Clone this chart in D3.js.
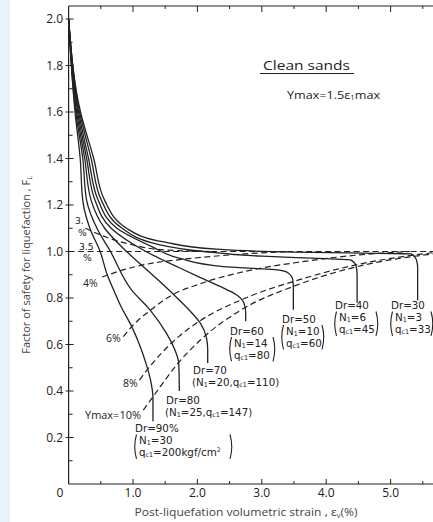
<!DOCTYPE html>
<html><head><meta charset="utf-8">
<script src="https://cdn.jsdelivr.net/npm/d3@7"></script>
<style>
html,body{margin:0;padding:0;background:#fff;}
svg{display:block;}
text{font-family:"Open Sans",sans-serif;fill:#222;}
text.stack{font-family:"DejaVu Sans",sans-serif;}
</style></head><body>
<svg id="chart" width="433" height="522"></svg>
<script>
// ---- data ----
const yTickValues = [0.2,0.4,0.6,0.8,1.0,1.2,1.4,1.6,1.8,2.0];
const yTickLabels = ["0.2","0.4","0.6","0.8","1.0","1.2","1.4","1.6","1.8","2.0"];
const xTickValues = [1,2,3,4,5];
const xTickLabels = ["1.0","2.0","3.0","4.0","5.0"];

const densityNames = ["Dr=90%","Dr=80","Dr=70","Dr=60","Dr=50","Dr=40","Dr=30"];
// [volumetric strain %, FL]
const dr90 = [[0,2.0],[0.10,1.6],[0.18,1.4],[0.22,1.22],[0.33,1.1],[0.49,1.0],[0.6,0.9],[0.70,0.834],[0.82,0.76],[0.98,0.677],[1.10,0.6],[1.20,0.52],[1.27,0.45],[1.31,0.37],[1.31,0.27]];
const dr80 = [[0,2.0],[0.11,1.6],[0.22,1.4],[0.28,1.22],[0.44,1.1],[0.65,1.0],[0.98,0.834],[1.26,0.75],[1.52,0.648],[1.66,0.57],[1.71,0.52],[1.72,0.40]];
const dr70 = [[0,2.0],[0.125,1.6],[0.25,1.4],[0.35,1.22],[0.56,1.1],[0.90,1.0],[1.3,0.9],[1.65,0.81],[1.9,0.74],[2.05,0.69],[2.14,0.63],[2.16,0.58],[2.16,0.52]];
const dr60 = [[0,2.0],[0.14,1.6],[0.28,1.4],[0.41,1.22],[0.66,1.1],[1.2,1.0],[1.72,0.93],[2.03,0.89],[2.35,0.85],[2.60,0.815],[2.72,0.78],[2.75,0.74],[2.75,0.70]];
const dr50 = [[0,2.0],[0.155,1.6],[0.31,1.4],[0.46,1.22],[0.75,1.1],[1.3,1.02],[1.73,0.97],[2.40,0.935],[3.2,0.922],[3.40,0.91],[3.48,0.88],[3.49,0.84],[3.49,0.75]];
const dr40 = [[0,2.0],[0.17,1.6],[0.35,1.4],[0.51,1.22],[0.83,1.1],[1.4,1.03],[2.1,1.0],[3.0,0.98],[4.0,0.969],[4.38,0.964],[4.46,0.94],[4.48,0.9],[4.48,0.78]];
const dr30 = [[0,2.0],[0.185,1.6],[0.39,1.4],[0.56,1.22],[0.90,1.1],[1.5,1.04],[2.3,1.01],[3.5,0.997],[4.8,0.992],[5.32,0.99],[5.40,0.965],[5.42,0.93],[5.42,0.79]];
const drCurves = [dr90,dr80,dr70,dr60,dr50,dr40,dr30];

const gammaNames = ["3%","3.5%","4%","6%","8%","10%"];
const g3  = [[0.26,1.10],[0.6,1.06],[0.9,1.035],[1.42,1.008],[2.2,1.0]];
const g35 = [[0,1.0],[5.66,1.0]];
const g4  = [[0.52,0.89],[0.9,0.925],[1.3,0.95],[1.72,0.965],[2.5,0.985],[3.4,1.0]];
const g6  = [[0.85,0.634],[0.98,0.677],[1.26,0.745],[1.62,0.815],[2.03,0.86],[2.75,0.915],[3.6,0.955],[4.5,0.985],[5.3,1.0]];
const g8  = [[1.10,0.447],[1.26,0.505],[1.62,0.612],[2.03,0.70],[2.75,0.80],[3.6,0.88],[4.5,0.945],[5.66,0.995]];
const g10 = [[1.16,0.318],[1.31,0.375],[1.70,0.52],[2.03,0.615],[2.75,0.76],[3.49,0.85],[4.48,0.935],[5.66,0.99]];
const gammaCurves = [g3,g35,g4,g6,g8,g10];

// ---- drawing ----
const svg = d3.select("#chart");
const W = 433, H = 522;
const x = d3.scaleLinear().domain([0,1]).range([68.6,133]);
const y = d3.scaleLinear().domain([0,2]).range([484,19]);

svg.append("rect").attr("x",0).attr("y",0).attr("width",10).attr("height",H).attr("fill","#e6f3fa");

const ink = "#222";
const frame = svg.append("g").attr("stroke",ink).attr("stroke-width",1.2).attr("fill","none");
frame.append("line").attr("x1",x(0)).attr("x2",W).attr("y1",y(0)).attr("y2",y(0));
frame.append("line").attr("x1",x(0)).attr("x2",W).attr("y1",y(2.056)).attr("y2",y(2.056));
frame.append("line").attr("x1",x(0)).attr("x2",x(0)).attr("y1",y(0)).attr("y2",y(2.056));

// y ticks
const yMinor = d3.range(1,21).map(d=>d/10);
frame.selectAll(".ym").data(yMinor).join("line")
  .attr("x1",d=>Math.round(d*10)%2===0?x(0)-3:x(0)).attr("x2",d=>x(0)+(Math.round(d*10)%2===0?5:4))
  .attr("y1",d=>y(d)).attr("y2",d=>y(d)).attr("stroke-width",1);
// bottom & top ticks
const xMinor = d3.range(1,12).map(d=>d/2);
frame.selectAll(".xb").data(xMinor).join("line")
  .attr("x1",d=>x(d)).attr("x2",d=>x(d)).attr("y1",y(0)).attr("y2",d=>y(0)-(d%1===0?5:3)).attr("stroke-width",1);
frame.selectAll(".xt").data(xMinor).join("line")
  .attr("x1",d=>x(d)).attr("x2",d=>x(d)).attr("y1",y(2.056)).attr("y2",d=>y(2.056)+(d%1===0?6:3)).attr("stroke-width",1);

const labels = svg.append("g").attr("font-size",12);
labels.selectAll(".yl").data(yTickValues).join("text")
  .attr("x",63).attr("y",d=>y(d)+4.3).attr("text-anchor","end").text((d,i)=>yTickLabels[i]);
labels.selectAll(".xl").data(xTickValues).join("text")
  .attr("x",d=>x(d)).attr("y",497).attr("text-anchor","middle").text((d,i)=>xTickLabels[i]);
labels.append("text").attr("x",60).attr("y",497).attr("text-anchor","middle").text("0");

// rich multi-line text helper: _{sub} ^{sup}; lines = [[x, y, str], ...]
function richLines(g, lines, size, opts={}) {
  const t = g.append("text").attr("font-size",size);
  if (opts.cls) t.attr("class",opts.cls);
  if (opts.anchor) t.attr("text-anchor",opts.anchor);
  if (opts.transform) t.attr("transform",opts.transform);
  if (opts.fill) t.style("fill",opts.fill);
  if (opts.len) t.attr("textLength",opts.len).attr("lengthAdjust","spacingAndGlyphs");
  const subShift = opts.subShift ?? 0.14;
  lines.forEach(([px, py, str]) => {
    const re = /([_^])\{([^}]*)\}/g;
    let last = 0, m, shift = 0, first = true;
    const seg = (txt, dyTarget, fs) => {
      const s = t.append("tspan").text(txt);
      if (fs) s.attr("font-size", fs);
      if (first) { s.attr("x", px).attr("y", py + dyTarget); shift = dyTarget; first = false; }
      else if (dyTarget !== shift) { s.attr("dy", dyTarget - shift); shift = dyTarget; }
    };
    while ((m = re.exec(str)) !== null) {
      if (m.index > last) seg(str.slice(last, m.index), 0);
      seg(m[2], m[1]==="_" ? size*subShift : -size*0.4, size*0.62);
      last = re.lastIndex;
    }
    if (last < str.length) seg(str.slice(last), 0);
  });
  return t;
}
const rich = (g, px, py, str, size, opts) => richLines(g, [[px, py, str]], size, opts);

// curves
const line = d3.line().x(d=>x(d[0])).y(d=>y(d[1])).curve(d3.curveMonotoneY);
const lineX = d3.line().x(d=>x(d[0])).y(d=>y(d[1])).curve(d3.curveMonotoneX);
svg.append("g").selectAll("path").data(gammaCurves).join("path")
  .attr("d",d=>lineX(d)).attr("fill","none").attr("stroke",ink).attr("stroke-width",1.2)
  .attr("stroke-dasharray","6,3.5");
svg.append("g").selectAll("path").data(drCurves).join("path")
  .attr("d",d=>line(d)).attr("fill","none").attr("stroke",ink).attr("stroke-width",1.3);

// titles
rich(svg, 263, 70, "Clean sands", 13.5, {len:87});
svg.append("line").attr("x1",260).attr("x2",354).attr("y1",73.5).attr("y2",73.5).attr("stroke",ink).attr("stroke-width",1);
rich(svg, 287, 99, "Ymax=1.5\u03b5_{1}max", 10.5, {len:93});

rich(svg, 0, 0, "Factor of safety for liquefaction , F_{L}", 11, {anchor:"middle", transform:"translate(30,265) rotate(-90)", fill:"#444"});
rich(svg, 246, 516, "Post-liquefation volumetric strain , \u03b5_{v}(%)", 11, {anchor:"middle", len:223, fill:"#444"});

// gamma labels
const gl = svg.append("g");
const gOpt = {cls:"stack"};
richLines(gl, [[75, 224, "3."], [78, 235.5, "%"]], 9.2, gOpt);
richLines(gl, [[79, 249.5, "3.5"], [83, 261, "%"]], 9.2, gOpt);
rich(gl, 83, 287, "4%", 10.5);
rich(gl, 106, 342, "6%", 10.5);
rich(gl, 123, 387, "8%", 10.5);
rich(gl, 85, 419, "Ymax=10%", 10.5, {len:56});

// density labels
const dl = svg.append("g");
const sOpt = {cls:"stack", subShift:0.1};
const FS = 10.3, LS = 12.2;
function paren(px, top, bot, dir) {
  const mid = (top+bot)/2;
  dl.append("path").attr("d",`M${px},${top} Q${px-3.5*dir},${mid} ${px},${bot}`)
    .attr("fill","none").attr("stroke",ink).attr("stroke-width",1.1);
}
function block3(px, by, name, l2, l3, right) {
  richLines(dl, [[px, by, name], [px+4, by+LS, l2], [px+4, by+2*LS, l3]], FS, sOpt);
  paren(px+1.5, by+2.5, by+2*LS+2.5, 1);
  paren(right, by+2.5, by+2*LS+2.5, -1);
}
block3(391, 309, densityNames[6], "N_{1}=3", "q_{c1}=33", 431);
block3(335, 309, densityNames[5], "N_{1}=6", "q_{c1}=45", 376);
block3(282, 322.5, densityNames[4], "N_{1}=10", "q_{c1}=60", 322);
block3(230, 334.5, densityNames[3], "N_{1}=14", "q_{c1}=80", 273);
richLines(dl, [[193, 374, densityNames[2]], [192, 386, "(N_{1}=20,q_{c1}=110)"]], FS, sOpt);
richLines(dl, [[166, 404, densityNames[1]], [165, 416, "(N_{1}=25,q_{c1}=147)"]], FS, sOpt);
block3(135, 432, densityNames[0], "N_{1}=30", "q_{c1}=200kgf/cm^{2}", 230);
</script>
</body></html>
